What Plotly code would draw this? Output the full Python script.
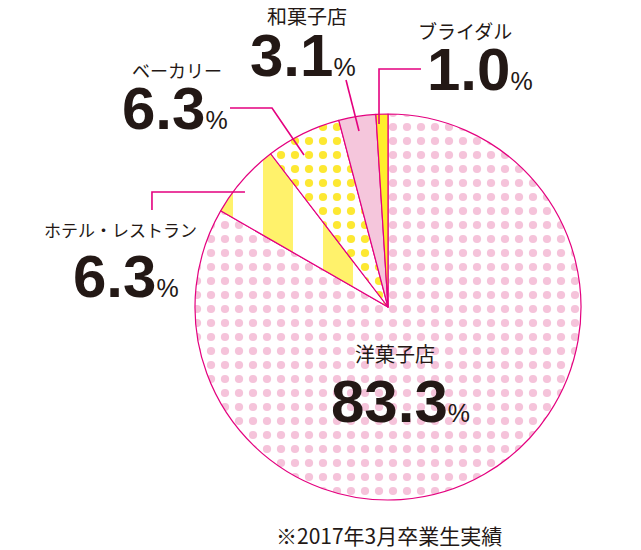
import plotly.graph_objects as go

# Data (clockwise from 12 o'clock)
categories = ["洋菓子店", "ホテル・レストラン", "ベーカリー", "和菓子店", "ブライダル"]
shares = [83.3, 6.3, 6.3, 3.1, 1.0]
footnote = "※2017年3月卒業生実績"

W, H = 641, 550
OFF = 8  # page body margin, layout below is in page pixels
CX, CY, R = 388, 307, 193

BORDER = "#e4007f"
INK = "#231815"
JP_FONT = "Noto Sans CJK JP"
NUM_FONT = "Liberation Sans Narrow, Liberation Sans, Arial, sans-serif"

# per-slice fill styles
pattern_shape = [".", "|", ".", "", ""]
pattern_fg = ["#f5c3da", "#fff26b", "#fde832", "#f5c6dc", "#ffee2a"]
pattern_bg = ["#ffffff", "#ffffff", "#ffffff", "#f5c6dc", "#ffee2a"]
pattern_size = [14, 60, 14, 8, 8]
pattern_solid = [0.27, 0.5, 0.27, 0.3, 0.3]

# label layout in page pixels:
# name centre x, name centre y, name size, number x, number centre y, number anchor
label_pos = {
    "洋菓子店": (395, 353, 20, 400, 401, "center"),
    "ホテル・レストラン": (120, 230, 17, 126, 277, "center"),
    "ベーカリー": (177, 70, 18, 229, 108, "right"),
    "和菓子店": (307, 16, 20, 357, 55, "right"),
    "ブライダル": (465, 30, 19, 426, 69, "left"),
}

# leader lines in page pixels
leaders = [
    [(230, 108), (272, 108), (304, 155)],
    [(152, 210), (152, 192), (245, 192)],
    [(346, 80), (359, 131)],
    [(421, 69), (379, 69), (379, 124)],
]


def px(x):
    return (x - OFF) / W


def py(y):
    return 1 - (y - OFF) / H


fig = go.Figure(
    go.Pie(
        labels=categories,
        values=shares,
        sort=False,
        direction="clockwise",
        rotation=0,
        textinfo="none",
        hoverinfo="label+percent",
        showlegend=False,
        domain=dict(x=[px(CX - R), px(CX + R)], y=[py(CY + R), py(CY - R)]),
        marker=dict(
            colors=pattern_bg,
            line=dict(color=BORDER, width=1.2),
            pattern=dict(
                shape=pattern_shape,
                fgcolor=pattern_fg,
                bgcolor=pattern_bg,
                size=pattern_size,
                solidity=pattern_solid,
                fillmode="replace",
            ),
        ),
    )
)

annotations = []
for name, val in zip(categories, shares):
    nx_, ny_, nsize, vx, vy, anchor = label_pos[name]
    annotations.append(dict(
        x=px(nx_), y=py(ny_), xref="paper", yref="paper",
        text=name, showarrow=False, xanchor="center", yanchor="middle",
        font=dict(family=JP_FONT, size=nsize, color=INK),
    ))
    annotations.append(dict(
        x=px(vx), y=py(vy), xref="paper", yref="paper",
        text="<b>%.1f</b><span style='font-size:25px'>%%</span>" % val,
        showarrow=False, xanchor=anchor, yanchor="middle", borderpad=0,
        font=dict(family=NUM_FONT, size=60, color=INK),
    ))

annotations.append(dict(
    x=px(389), y=py(535), xref="paper", yref="paper",
    text=footnote, showarrow=False, xanchor="center", yanchor="middle",
    font=dict(family=JP_FONT, size=21, color=INK),
))

shapes = []
for pts in leaders:
    path = "M " + " L ".join("%.4f,%.4f" % (px(x), py(y)) for x, y in pts)
    shapes.append(dict(type="path", path=path, xref="paper", yref="paper",
                       line=dict(color=BORDER, width=1.6)))

fig.update_layout(
    width=W, height=H,
    margin=dict(l=0, r=0, t=0, b=0),
    paper_bgcolor="white", plot_bgcolor="white",
    annotations=annotations,
    shapes=shapes,
)

fig.write_html("out.html")
